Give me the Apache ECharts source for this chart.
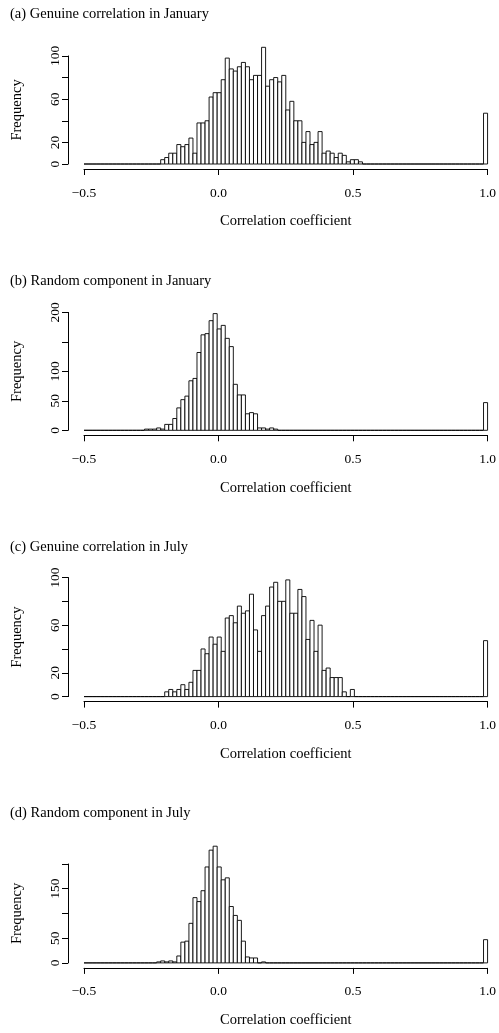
<!DOCTYPE html>
<html><head><meta charset="utf-8">
<script src="https://cdn.jsdelivr.net/npm/echarts@6/dist/echarts.min.js"></script>
<style>html,body{margin:0;padding:0;background:#fff}#c{width:499px;height:1033px}</style>
</head><body><div id="c"></div>
<script>
// ---- data ----
const binStart = -0.5;
const binWidth = 0.015;
const panelTitles = [
  "(a) Genuine correlation in January",
  "(b) Random component in January",
  "(c) Genuine correlation in July",
  "(d) Random component in July"
];
const xAxisTitle = "Correlation coefficient";
const yAxisTitle = "Frequency";
const xTickLabels = ["\u22120.5", "0.0", "0.5", "1.0"];
// counts per bin (100 bins of width 0.015 from -0.5 to 1.0)
const countsJanGenuine = [
  0,0,0,0,0,0,0,0,0,0, 0,0,0,0,0,0,0,0,0,4,
  6,10,10,18,16,18,24,10,38,38, 40,62,66,66,78,98,88,86,90,94,
  90,78,82,82,108,72,78,80,76,82, 50,58,40,40,20,30,18,20,30,10,
  12,10,6,10,8,2,4,4,2,0, 0,0,0,0,0,0,0,0,0,0,
  0,0,0,0,0,0,0,0,0,0, 0,0,0,0,0,0,0,0,0,47
];
const countsJanRandom = [
  0,0,0,0,0,0,0,0,0,0, 0,0,0,0,0,2,2,2,4,2,
  10,10,20,38,52,58,84,88,132,162, 164,186,198,172,178,156,142,78,60,60,
  28,30,28,4,4,2,4,2,0,0, 0,0,0,0,0,0,0,0,0,0,
  0,0,0,0,0,0,0,0,0,0, 0,0,0,0,0,0,0,0,0,0,
  0,0,0,0,0,0,0,0,0,0, 0,0,0,0,0,0,0,0,0,47
];
const countsJulGenuine = [
  0,0,0,0,0,0,0,0,0,0, 0,0,0,0,0,0,0,0,0,0,
  4,6,4,6,10,6,12,22,22,40, 36,50,44,50,38,66,68,62,76,70,
  72,86,56,38,68,76,92,96,80,80, 98,70,70,90,84,48,64,38,60,22,
  24,16,16,16,4,0,6,0,0,0, 0,0,0,0,0,0,0,0,0,0,
  0,0,0,0,0,0,0,0,0,0, 0,0,0,0,0,0,0,0,0,47
];
const countsJulRandom = [
  0,0,0,0,0,0,0,0,0,0, 0,0,0,0,0,0,0,0,2,4,
  2,4,2,14,42,44,80,132,124,146, 194,228,236,194,168,172,114,96,86,44,
  12,10,10,0,2,0,0,0,0,0, 0,0,0,0,0,0,0,0,0,0,
  0,0,0,0,0,0,0,0,0,0, 0,0,0,0,0,0,0,0,0,0,
  0,0,0,0,0,0,0,0,0,0, 0,0,0,0,0,0,0,0,0,47
];
const panelCounts = [countsJanGenuine, countsJanRandom, countsJulGenuine, countsJulRandom];
const yTickMax = [100, 200, 100, 200];
const yTickStep = [20, 50, 20, 50];
const yLabelsShown = [[0,20,60,100],[0,50,100,200],[0,20,60,100],[0,50,150]];

// ---- layout ----
const FONT = "Liberation Serif";
const FS = 14.5;
const FS_TICK = 13.5;
const panelPitch = 266.3;
const baseline0 = 164;
const dataHeight = 116.7;
const plotLeft = 84, plotWidth = 405;

const grids = [], xAxes = [], yAxes = [], series = [], titles = [];
panelCounts.forEach((counts, p) => {
  const B = baseline0 + p * panelPitch;
  const maxC = Math.max(...counts);
  const scale = dataHeight / maxC;
  const h = yTickMax[p] * scale;
  grids.push({left: plotLeft, width: plotWidth, top: B - h, height: h});
  xAxes.push({
    type: 'value', gridIndex: p, min: -0.5, max: 1.0, interval: 0.5, offset: 5, position: 'bottom',
    axisLine: {show: true, onZero: false, lineStyle: {color: '#000', width: 1}},
    axisTick: {show: true, length: 6, lineStyle: {color: '#000', width: 1}},
    splitLine: {show: false},
    axisLabel: {margin: 17, color: '#000', fontFamily: FONT, fontSize: FS_TICK,
      formatter: v => xTickLabels[Math.round((v + 0.5) / 0.5)] || ''},
    name: xAxisTitle, nameLocation: 'middle', nameGap: 45,
    nameTextStyle: {color: '#000', fontFamily: FONT, fontSize: FS}
  });
  const shown = yLabelsShown[p];
  yAxes.push({
    type: 'value', gridIndex: p, min: 0, max: yTickMax[p], interval: yTickStep[p], offset: 16, position: 'left',
    axisLine: {show: true, onZero: false, lineStyle: {color: '#000', width: 1}},
    axisTick: {show: true, length: 6, lineStyle: {color: '#000', width: 1}},
    splitLine: {show: false},
    axisLabel: {margin: 6, rotate: 90, color: '#000', fontFamily: FONT, fontSize: FS_TICK,
      formatter: v => shown.indexOf(v) >= 0 ? String(v) : ''},
    name: yAxisTitle, nameLocation: 'middle', nameGap: 43, nameRotate: 90,
    nameTextStyle: {color: '#000', fontFamily: FONT, fontSize: FS}
  });
  series.push({
    type: 'custom', xAxisIndex: p, yAxisIndex: p, clip: false,
    data: counts.map((c, i) => [binStart + i * binWidth, binStart + (i + 1) * binWidth, c]),
    encode: {x: [0, 1], y: 2},
    renderItem: (params, api) => {
      const a = api.coord([api.value(0), api.value(2)]);
      const b = api.coord([api.value(1), 0]);
      return {type: 'rect', shape: {x: a[0], y: a[1], width: b[0] - a[0], height: b[1] - a[1]},
        style: {fill: '#fff', stroke: '#000', lineWidth: 0.9}};
    },
    silent: true, animation: false
  });
  titles.push({text: panelTitles[p], left: 10, top: 7 + p * panelPitch, padding: 0,
    textStyle: {color: '#000', fontFamily: FONT, fontSize: FS, fontWeight: 'normal'}});
});

const chart = echarts.init(document.getElementById('c'), null, {renderer: 'canvas'});
chart.setOption({animation: false, backgroundColor: '#fff', title: titles,
  grid: grids, xAxis: xAxes, yAxis: yAxes, series: series});
</script></body></html>
